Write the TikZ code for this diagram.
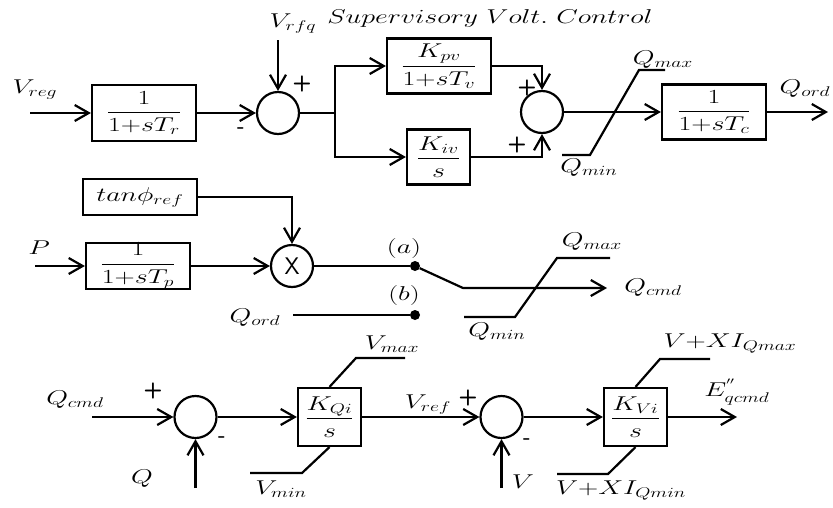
\RequirePackage{fix-cm}
\documentclass[tikz,border=0pt]{standalone}
\usepackage{amsmath}
\usepackage{graphicx}
\usetikzlibrary{arrows.meta}
\newcommand{\sx}[1]{\scalebox{1.4}[1]{#1}}
\tikzset{
  ln/.style={line width=2.2pt},
  arr/.style={ln, -{Straight Barb[length=14pt,width=16pt]}},
  blk/.style={draw, line width=2.2pt, inner sep=0pt, fill=white},
  sumc/.style={draw, circle, line width=2.2pt, minimum size=42pt, inner sep=0pt},
  dotc/.style={circle, fill, minimum size=10pt, inner sep=0pt},
  lbl/.style={inner sep=0pt},
  sgn/.style={inner sep=0pt, font=\sffamily\bfseries\fontsize{22}{26}\selectfont}
}
\begin{document}
\begin{tikzpicture}[x=1pt, y=-1pt, font=\fontsize{20}{24}\selectfont]
\useasboundingbox (0,0) rectangle (833,507);

% ---------- top row ----------
\node[lbl] (title) at (490,18) {\sx{$Supervisory\ Volt.\ Control$}};
\node[lbl] (vreg) at (35,90) {\sx{$V_{reg}$}};
\coordinate (vregin) at (30,113);
\node[blk, minimum width=104pt, minimum height=56pt] (tr) at (144,113) {\sx{$\dfrac{1}{1{+}sT_r}$}};
\node[sumc] (s1) at (278,113) {};
\node[lbl] (vrfq) at (293,24) {\sx{$V_{rfq}$}};
\coordinate (vrfqin) at (278,40);
\node[sgn] (p1) at (302,84) {+};
\node[sgn] (m1s) at (241,131) {-};
\coordinate (br) at (335,113);
\node[blk, minimum width=104pt, minimum height=55pt] (kpv) at (439,66) {\sx{$\dfrac{K_{pv}}{1{+}sT_v}$}};
\node[blk, minimum width=63pt, minimum height=55pt] (kiv) at (438.5,157) {\sx{$\dfrac{K_{iv}}{s}$}};
\node[sumc] (s2) at (542,112) {};
\node[sgn] (p2) at (527,88) {+};
\node[sgn] (p3) at (517,145) {+};
\node[blk, minimum width=104pt, minimum height=55pt] (tc) at (714,112) {\sx{$\dfrac{1}{1{+}sT_c}$}};
\coordinate (qordout) at (828,112);
\node[lbl] (qordl) at (805,89) {\sx{$Q_{ord}$}};
\node[lbl] (qmax1) at (663,60) {\sx{$Q_{max}$}};
\node[lbl] (qmin1) at (589,168) {\sx{$Q_{min}$}};

\draw[arr] (vregin) -- (tr.west);
\draw[arr] (tr.east) -- (s1.west);
\draw[arr] (vrfqin) -- (s1.north);
\draw[ln] (s1.east) -- (br);
\draw[arr] (br) |- (kpv.west);
\draw[arr] (br) |- (kiv.west);
\draw[arr] (kpv.east) -| (s2.north);
\draw[arr] (kiv.east) -| (s2.south);
\draw[arr] (s2.east) -- (tc.west);
\draw[arr] (tc.east) -- (qordout);
\draw[ln] (562,155) -- (590,155) -- (639,70) -- (665,70);

% ---------- middle ----------
\node[blk, minimum width=114pt, minimum height=36pt] (tan) at (140,197) {\sx{$tan\phi_{ref}$}};
\node[sumc] (mul) at (292,266) {\sffamily\fontsize{24}{28}\selectfont X};
\node[lbl] (pl) at (39,248) {\sx{$P$}};
\coordinate (pin) at (35,266);
\node[blk, minimum width=104pt, minimum height=46pt] (tp) at (138,266) {\sx{$\dfrac{1}{1{+}sT_p}$}};
\node[dotc] (da) at (415,266) {};
\node[dotc] (db) at (415,315) {};
\node[lbl] (al) at (404,248) {\sx{$(a)$}};
\node[lbl] (bl) at (404,295) {\sx{$(b)$}};
\node[lbl] (qordl2) at (255,318) {\sx{$Q_{ord}$}};
\coordinate (qordin) at (293,315);
\coordinate (sw) at (463,288);
\coordinate (qcmdout) at (607,288);
\node[lbl] (qcmdl) at (653,288) {\sx{$Q_{cmd}$}};
\node[lbl] (qmax2) at (592,242) {\sx{$Q_{max}$}};
\node[lbl] (qmin2) at (497,332) {\sx{$Q_{min}$}};

\draw[arr] (tan.east) -| (mul.north);
\draw[arr] (pin) -- (tp.west);
\draw[arr] (tp.east) -- (mul.west);
\draw[ln] (mul.east) -- (da);
\draw[ln] (qordin) -- (db);
\draw[arr] (da) -- (sw) -- (qcmdout);
\draw[ln] (464,317) -- (515,317) -- (557,258) -- (610,258);

% ---------- bottom ----------
\node[lbl] (qcmdl2) at (75,400) {\sx{$Q_{cmd}$}};
\coordinate (qcmdin) at (92,417);
\node[sumc] (s3) at (195.5,417) {};
\node[sgn] (p4) at (153,391) {+};
\node[sgn] (m2s) at (222,440) {-};
\node[lbl] (ql) at (142,479) {\sx{$Q$}};
\coordinate (qin) at (195.5,488);
\node[blk, minimum width=63pt, minimum height=58pt] (kqi) at (329.5,417) {\sx{$\dfrac{K_{Qi}}{s}$}};
\node[lbl] (vmax) at (392,344) {\sx{$V_{max}$}};
\node[lbl] (vmin) at (281,489) {\sx{$V_{min}$}};
\node[sumc] (s4) at (501.5,417) {};
\node[lbl] (vref) at (428,405) {\sx{$V_{ref}$}};
\node[sgn] (p5) at (468,398) {+};
\node[sgn] (m3s) at (527,442) {-};
\node[lbl] (vl) at (523,482) {\sx{$V$}};
\coordinate (vin) at (501.5,488);
\node[blk, minimum width=63pt, minimum height=58pt] (kvi) at (635.5,417) {\sx{$\dfrac{K_{Vi}}{s}$}};
\coordinate (eout) at (737,417);
\node[lbl] (el) at (737,392) {\sx{$E^{''}_{qcmd}$}};
\node[lbl] (vxmax) at (730,344) {\sx{$V{+}XI_{Qmax}$}};
\node[lbl] (vxmin) at (621,491) {\sx{$V{+}XI_{Qmin}$}};

\draw[arr] (qcmdin) -- (s3.west);
\draw[arr] (qin) -- (s3.south);
\draw[arr] (s3.east) -- (kqi.west);
\draw[ln] (kqi.north) -- (356,358) -- (405,358);
\draw[ln] (kqi.south) -- (302,473) -- (250,473);
\draw[arr] (kqi.east) -- (s4.west);
\draw[arr] (vin) -- (s4.south);
\draw[arr] (s4.east) -- (kvi.west);
\draw[arr] (kvi.east) -- (eout);
\draw[ln] (kvi.north) -- (660,359) -- (710,359);
\draw[ln] (kvi.south) -- (608,474) -- (557,474);
\end{tikzpicture}
\end{document}
